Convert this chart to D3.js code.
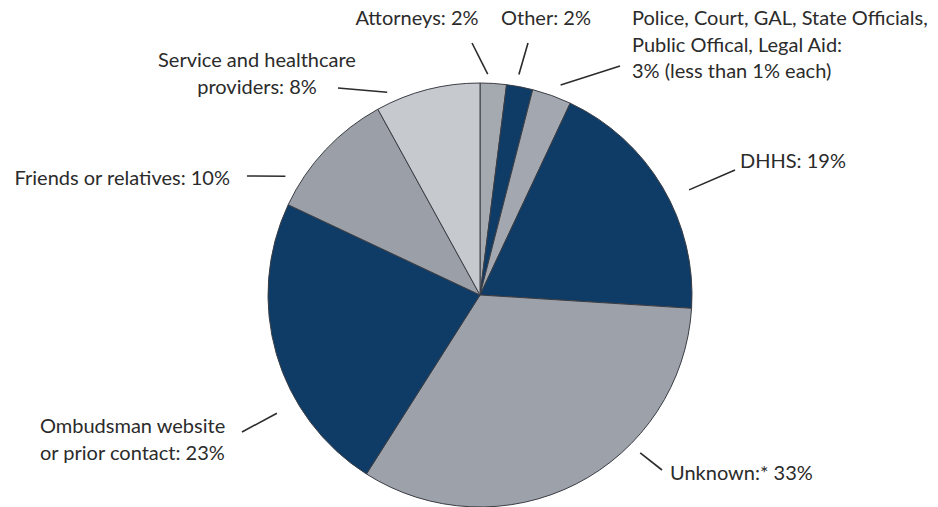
<!DOCTYPE html>
<html>
<head>
<meta charset="utf-8">
<script src="https://cdn.jsdelivr.net/npm/d3@7"></script>
<style>
  html, body { margin: 0; padding: 0; background: #fff; }
  svg { display: block; }
</style>
</head>
<body>
<svg id="root"></svg>
<script>
// slices, clockwise from 12 o'clock
const categories = ["Attorneys", "Other", "Police, Court, GAL, State Officials, Public Offical, Legal Aid", "DHHS", "Unknown", "Ombudsman website or prior contact", "Friends or relatives", "Service and healthcare providers"];
const values = [2, 2, 3, 19, 33, 23, 10, 8];
const sliceColors = ["#a5a9b0", "#0f3c67", "#a3a8b0", "#0f3c67", "#9ca1aa", "#0f3c67", "#9a9fa8", "#c6c9ce"];

// label text, one entry per slice
const labelLines = [
  ["Attorneys: 2%"],
  ["Other: 2%"],
  ["Police, Court, GAL, State Officials,", "Public Offical, Legal Aid:", "3% (less than 1% each)"],
  ["DHHS: 19%"],
  ["Unknown:* 33%"],
  ["Ombudsman website", "or prior contact: 23%"],
  ["Friends or relatives: 10%"],
  ["Service and healthcare", "providers: 8%"]
];

const width = 938;
const height = 507;
const cx = 480, cy = 295, radius = 212;

// label placement: text anchor point + leader line (angle on pie in degrees, gap from edge, outer end)
const labelLayout = [
  { x: 417, y: 25, anchor: "middle", angle: 2,     gap: 9,  end: [472, 43] },
  { x: 546, y: 25, anchor: "middle", angle: 10,    gap: 12, end: [528, 43] },
  { x: 632, y: 25, anchor: "start",  angle: 21,    gap: 13, end: [620, 66] },
  { x: 740, y: 168, anchor: "start", angle: 63.3,  gap: 22, end: [735, 170] },
  { x: 670, y: 480, anchor: "start", angle: 134.6, gap: 13, end: [662, 470] },
  { x: 40,  y: 433, anchor: "start", angle: 239.8, gap: 23, end: [242, 432] },
  { x: 230, y: 185, anchor: "end",   angle: 301.4, gap: 16, end: [247, 176] },
  { x: 257, y: 67, anchor: "middle", angle: 335.4, gap: 11, end: [338, 88] }
];

const svg = d3.select("#root")
  .attr("width", width)
  .attr("height", height)
  .attr("viewBox", `0 0 ${width} ${height}`);

const pie = d3.pie().sort(null).value(d => d);
const arcs = pie(values);
const arc = d3.arc().innerRadius(0).outerRadius(radius);

const g = svg.append("g").attr("transform", `translate(${cx},${cy})`);

g.selectAll("path")
  .data(arcs)
  .enter()
  .append("path")
  .attr("d", arc)
  .attr("fill", (d, i) => sliceColors[i])
  .attr("stroke", "#3a3d44")
  .attr("stroke-width", 1)
  .attr("stroke-linejoin", "round");

// leader lines
svg.append("g")
  .selectAll("line")
  .data(labelLayout)
  .enter()
  .append("line")
  .attr("x1", d => cx + (radius + d.gap) * Math.sin(d.angle * Math.PI / 180))
  .attr("y1", d => cy - (radius + d.gap) * Math.cos(d.angle * Math.PI / 180))
  .attr("x2", d => d.end[0])
  .attr("y2", d => d.end[1])
  .attr("stroke", "#2b2b2b")
  .attr("stroke-width", 1.6);

// labels
const labels = svg.append("g")
  .attr("font-family", "Lato, 'Open Sans', sans-serif")
  .attr("font-size", 20)
  .attr("fill", "#2b2b2b")
  .selectAll("text")
  .data(labelLayout)
  .enter()
  .append("text")
  .attr("text-anchor", d => d.anchor);

labels.each(function(d, i) {
  const t = d3.select(this);
  labelLines[i].forEach((line, j) => {
    t.append("tspan")
      .attr("x", d.x)
      .attr("y", d.y + j * 26.5)
      .text(line);
  });
});
</script>
</body>
</html>
